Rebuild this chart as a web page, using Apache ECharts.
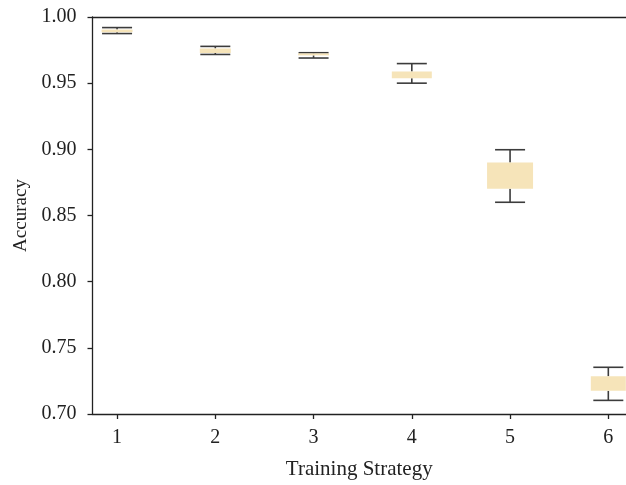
<!DOCTYPE html>
<html>
<head>
<meta charset="utf-8">
<script src="https://cdn.jsdelivr.net/npm/echarts@6/dist/echarts.min.js"></script>
<style>
  html, body { margin: 0; padding: 0; background: #ffffff; }
  #chart { width: 626px; height: 485px; }
</style>
</head>
<body>
<div id="chart"></div>
<script>
// Accuracy spread per training strategy
const strategies = [1, 2, 3, 4, 5, 6];
const whiskerLow  = [0.9875, 0.9717, 0.9690, 0.9500, 0.8600, 0.7103];
const boxLow      = [0.9885, 0.9728, 0.9710, 0.9537, 0.8703, 0.7175];
const boxHigh     = [0.9905, 0.9762, 0.9725, 0.9588, 0.8900, 0.7285];
const whiskerHigh = [0.9920, 0.9778, 0.9730, 0.9648, 0.8997, 0.7353];
const yTickValues = [0.70, 0.75, 0.80, 0.85, 0.90, 0.95, 1.00];

// drawing styles
const boxPixelWidths = [31, 31, 31, 40, 46, 35];
const capPixelWidth = 30;
const boxFill = '#f6e4b9';
const whiskerColor = '#3c3c3c';
const textColor = '#222222';
const fontFamily = '"Liberation Serif", "DejaVu Serif", serif';
const fontSize = 20;

const boxData = strategies.map((s, i) => [s, whiskerLow[i], boxLow[i], boxHigh[i], whiskerHigh[i]]);

const chart = echarts.init(document.getElementById('chart'), null, { renderer: 'canvas' });

const axisLineStyle = { color: '#222222', width: 1.3 };

chart.setOption({
  animation: false,
  backgroundColor: '#ffffff',
  grid: { left: 92.5, right: 0, top: 17, bottom: 67.5 },
  xAxis: [{
    type: 'value',
    min: 0.75,
    max: 6.18,
    name: 'Training Strategy',
    nameLocation: 'middle',
    nameGap: 45,
    nameTextStyle: { fontFamily, fontSize: 21, color: textColor },
    axisLine: { show: true, lineStyle: axisLineStyle },
    axisTick: { show: true, length: 5, inside: false, customValues: strategies, lineStyle: axisLineStyle },
    axisLabel: {
      customValues: strategies, margin: 14,
      fontFamily, fontSize, color: textColor
    },
    splitLine: { show: false }
  }, {
    type: 'value',
    position: 'top',
    min: 0.75,
    max: 6.18,
    axisLine: { show: true, onZero: false, lineStyle: axisLineStyle },
    axisTick: { show: false },
    axisLabel: { show: false },
    splitLine: { show: false }
  }],
  yAxis: {
    type: 'value',
    min: 0.70,
    max: 1.00,
    interval: 0.05,
    name: 'Accuracy',
    nameLocation: 'middle',
    nameGap: 62,
    nameRotate: 90,
    nameTextStyle: { fontFamily, fontSize: 19, color: textColor },
    axisLine: { show: true, lineStyle: axisLineStyle },
    axisTick: { show: true, length: 5, lineStyle: axisLineStyle },
    axisLabel: {
      customValues: yTickValues,
      margin: 16,
      fontFamily, fontSize, color: textColor,
      formatter: v => v.toFixed(2)
    },
    splitLine: { show: false }
  },
  series: [{
    type: 'custom',
    xAxisIndex: 0,
    yAxisIndex: 0,
    data: boxData,
    renderItem: function (params, api) {
      const x = api.value(0);
      const pLo = api.coord([x, api.value(1)]);
      const pQ1 = api.coord([x, api.value(2)]);
      const pQ3 = api.coord([x, api.value(3)]);
      const pHi = api.coord([x, api.value(4)]);
      const cx = pLo[0];
      const bw = boxPixelWidths[params.dataIndex];
      const lineStyle = { stroke: whiskerColor, lineWidth: 1.6 };
      return {
        type: 'group',
        children: [
          { type: 'line', shape: { x1: cx, y1: pHi[1], x2: cx, y2: pQ3[1] }, style: lineStyle },
          { type: 'line', shape: { x1: cx, y1: pQ1[1], x2: cx, y2: pLo[1] }, style: lineStyle },
          { type: 'line', shape: { x1: cx - capPixelWidth / 2, y1: pHi[1], x2: cx + capPixelWidth / 2, y2: pHi[1] }, style: lineStyle },
          { type: 'line', shape: { x1: cx - capPixelWidth / 2, y1: pLo[1], x2: cx + capPixelWidth / 2, y2: pLo[1] }, style: lineStyle },
          { type: 'rect', shape: { x: cx - bw / 2, y: pQ3[1], width: bw, height: pQ1[1] - pQ3[1] }, style: { fill: boxFill } }
        ]
      };
    }
  }]
});
</script>
</body>
</html>
